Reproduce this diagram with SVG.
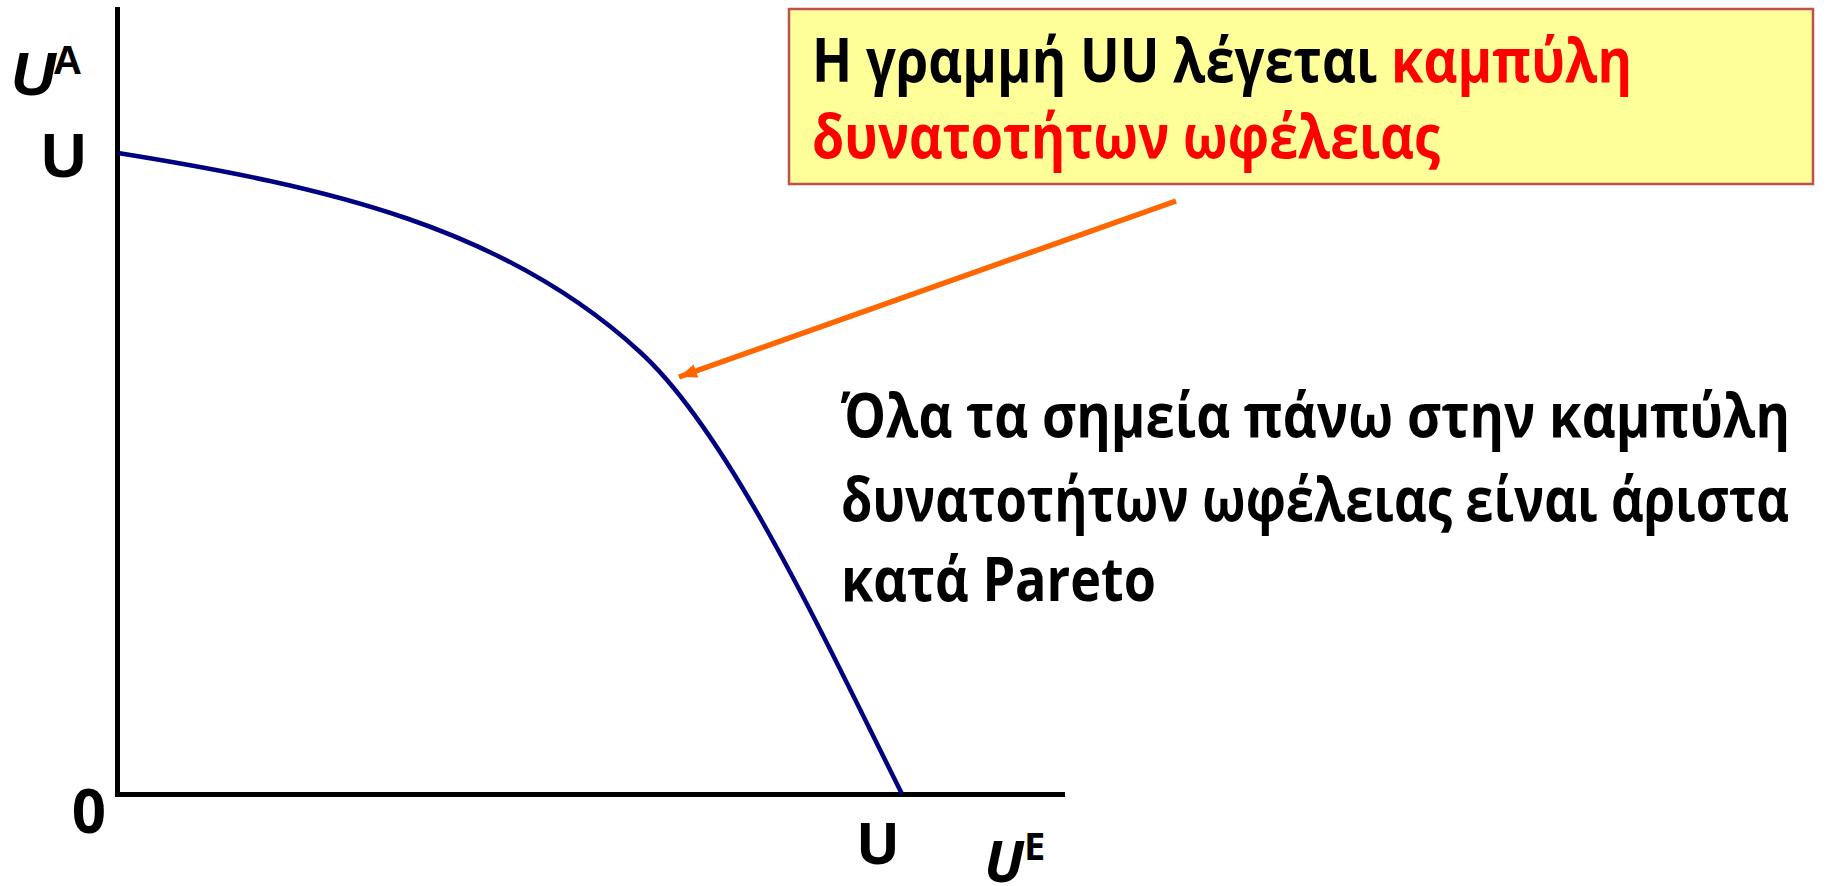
<svg xmlns="http://www.w3.org/2000/svg" width="1831" height="886" viewBox="0 0 1831 886">
<defs>
<style>
.cal{font-family:"Open Sans","Noto Sans","DejaVu Sans",sans-serif;font-weight:700;fill:#000}
.ari{font-family:"Liberation Sans",Arial,sans-serif;font-weight:700;fill:#000}
.red{fill:#FF0000}
.axis{stroke:#000;stroke-width:5;fill:none}
.curve{stroke:#000080;stroke-width:4.5;fill:none}
.arrow{stroke:#FF6600;stroke-width:5.5;fill:none}
</style>
<marker id="ah" markerUnits="userSpaceOnUse" markerWidth="20" markerHeight="20" viewBox="0 0 20 20" refX="18" refY="10" orient="auto">
<path d="M0,3 L18,10 L0,17 Z" fill="#FF6600"/>
</marker>
</defs>
<rect width="1831" height="886" fill="#fff"/>
<g id="axes">
<line class="axis" x1="117.5" y1="7" x2="117.5" y2="797"/>
<line class="axis" x1="115" y1="794.5" x2="1065" y2="794.5"/>
</g>
<g id="axis-labels">
<text class="ari" x="11" y="95" font-size="62" font-style="italic">U</text>
<text class="ari" x="53" y="74" font-size="40">A</text>
<text class="ari" x="41" y="177" font-size="63">U</text>
<text class="cal" x="89" y="833" font-size="60" text-anchor="middle">0</text>
<text class="cal" x="878" y="864" font-size="58" text-anchor="middle">U</text>
<text class="cal" x="984" y="882" font-size="58" font-style="italic">U</text>
<text class="cal" x="1024" y="860" font-size="38">E</text>
</g>
<g id="curve">
<path class="curve" d="M118,153 C330,187 505,228 640,352 C730,434 825,640 902,794"/>
</g>
<g id="callout">
<rect x="789" y="9" width="1024" height="175" fill="#FFFF99" stroke="#C0504D" stroke-width="2.5"/>
<text class="cal" x="812" y="82" font-size="60" textLength="820" lengthAdjust="spacingAndGlyphs">Η γραμμή UU λέγεται <tspan class="red">καμπύλη</tspan></text>
<text class="cal red" x="812" y="158" font-size="60" textLength="628" lengthAdjust="spacingAndGlyphs">δυνατοτήτων ωφέλειας</text>
</g>
<g id="connectors">
<line class="arrow" x1="1176" y1="201" x2="679" y2="377" marker-end="url(#ah)"/>
</g>
<g id="note">
<text class="cal" x="841" y="437" font-size="60" textLength="949" lengthAdjust="spacingAndGlyphs">Όλα τα σημεία πάνω στην καμπύλη</text>
<text class="cal" x="841" y="521" font-size="60" textLength="948" lengthAdjust="spacingAndGlyphs">δυνατοτήτων ωφέλειας είναι άριστα</text>
<text class="cal" x="841" y="601" font-size="60" textLength="315" lengthAdjust="spacingAndGlyphs">κατά Pareto</text>
</g>
</svg>
